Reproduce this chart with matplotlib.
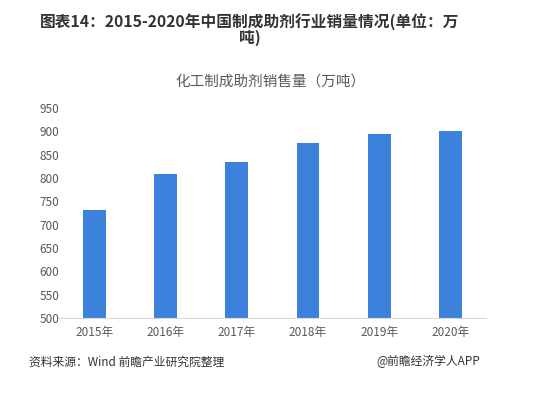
import matplotlib.pyplot as plt

plt.rcParams['font.family'] = ['Noto Sans CJK SC', 'DejaVu Sans']

years = ["2015年", "2016年", "2017年", "2018年", "2019年", "2020年"]
sales = [731, 808, 835, 876, 894, 901]
yticks = list(range(500, 951, 50))

fig = plt.figure(figsize=(5.4, 3.99), dpi=100)
ax = fig.add_axes([0.109, 0.203, 0.791, 0.526])

x = range(len(years))
ax.bar(x, sales, width=0.32, color="#3C82DC", zorder=2)

ax.set_xlim(-0.5, len(years) - 0.5)
ax.set_ylim(500, 950)
ax.set_yticks(yticks)
ax.set_xticks(list(x))
ax.set_xticklabels(years)
ax.tick_params(axis="both", length=0, labelsize=8.5, colors="#595959")
ax.tick_params(axis="x", pad=6)
ax.tick_params(axis="y", pad=14)
for lbl in ax.get_yticklabels():
    lbl.set_horizontalalignment("left")
for side in ["top", "right", "left"]:
    ax.spines[side].set_visible(False)
ax.spines["bottom"].set_color("#D9D9D9")

# 标题整体略偏左
fig.text(0.463, 0.925, "图表14：2015-2020年中国制成助剂行业销量情况(单位：万\n吨)",
         ha="center", va="center", fontsize=11.3, fontweight="bold",
         color="#333333", linespacing=0.95)
fig.text(0.5, 0.795, "化工制成助剂销售量（万吨）", ha="center", va="center",
         fontsize=10.5, color="#595959")
fig.text(0.053, 0.093, "资料来源：Wind 前瞻产业研究院整理", ha="left", va="center",
         fontsize=8.5, color="#333333")
fig.text(0.89, 0.093, "@前瞻经济学人APP", ha="right", va="center",
         fontsize=8.5, color="#333333")

fig.savefig("out.png", dpi=100)
